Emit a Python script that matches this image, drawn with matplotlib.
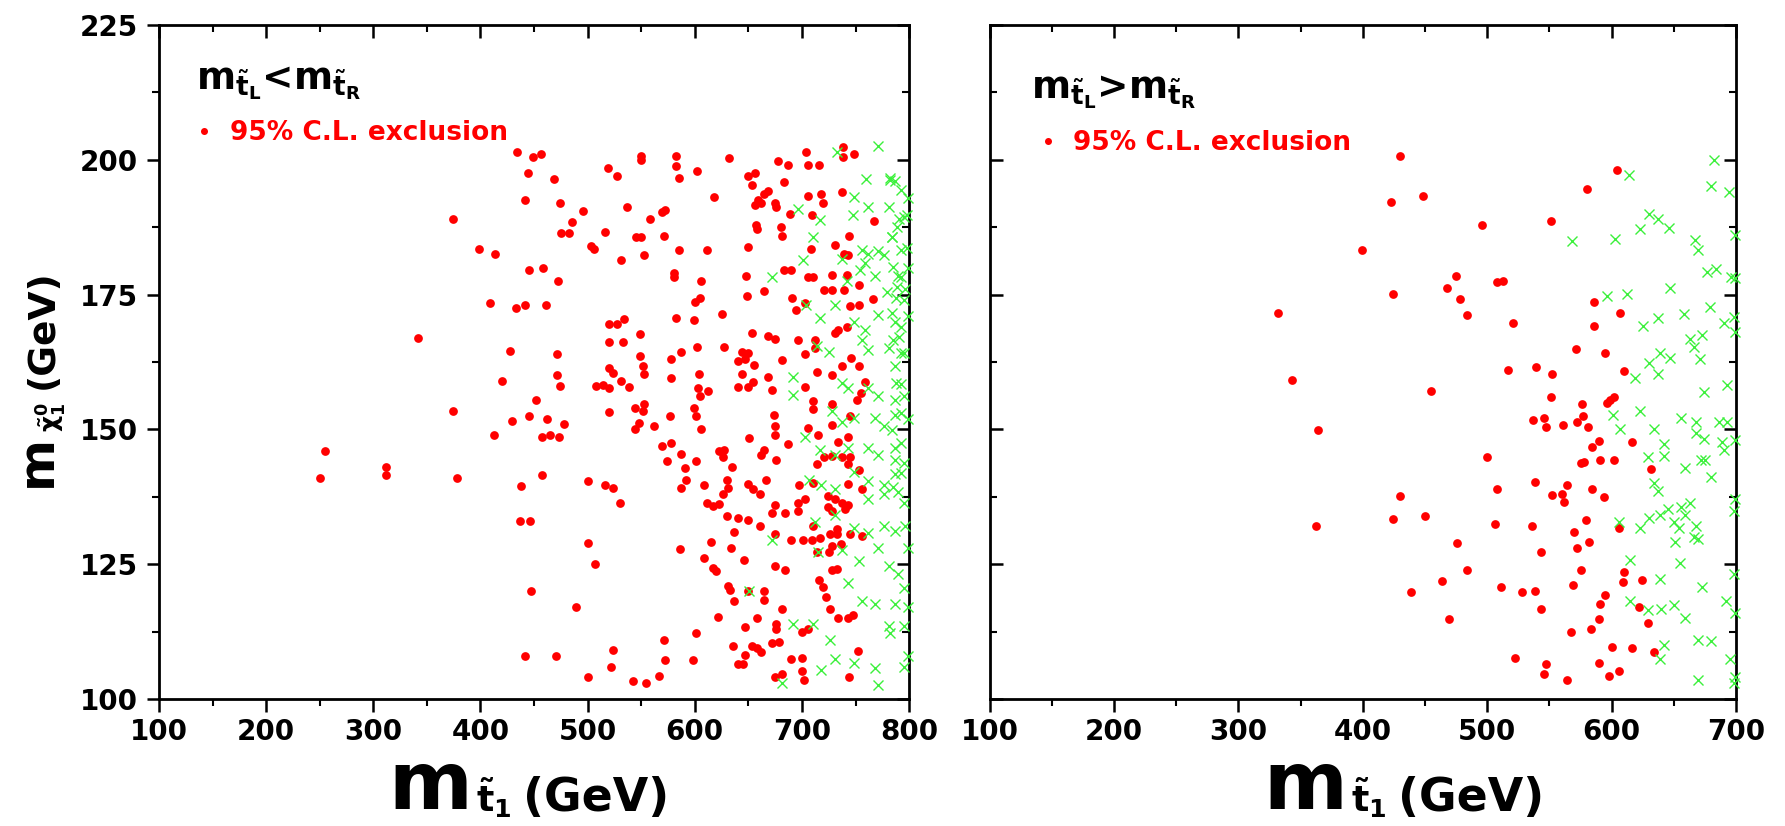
import matplotlib
matplotlib.use("Agg")
import matplotlib.pyplot as plt
from matplotlib.ticker import MultipleLocator

# ---- data: left panel (m_tL < m_tR) ----
left_red_x = [434, 449, 456, 444, 469, 442, 474, 496, 374, 485, 475, 483, 503, 506, 399, 414, 445, 458, 472,
              409, 433, 442, 461, 342, 428, 471, 471, 474, 420, 508, 452, 374, 445, 429, 462, 478, 413, 457,
              465, 473, 255, 250, 312, 312, 378, 457, 438, 500, 437, 446, 500, 507, 447, 489, 442, 470, 500,
              550, 550, 582, 582, 585, 602, 632, 519, 527, 678, 687, 704, 706, 716, 738, 738, 749, 650, 656,
              653, 683, 618, 537, 558, 569, 572, 516, 545, 550, 571, 585, 611, 531, 553, 659, 665, 668, 656,
              662, 675, 676, 689, 657, 658, 680, 681, 706, 718, 720, 709, 737, 767, 744, 731, 739, 743, 650,
              708, 581, 581, 606, 648, 683, 690, 706, 710, 728, 742, 721, 728, 739, 753, 649, 665, 691, 694,
              703, 745, 753, 766, 600, 605, 582, 599, 625, 520, 527, 534, 549, 549, 520, 533, 602, 587, 578,
              627, 653, 668, 675, 696, 712, 712, 703, 731, 734, 742, 746, 644, 650, 640, 647, 655, 681, 520,
              524, 552, 553, 604, 578, 644, 640, 650, 654, 668, 672, 703, 714, 728, 737, 753, 759, 755, 514,
              520, 531, 539, 603, 612, 605, 520, 544, 553, 552, 544, 548, 562, 577, 599, 601, 606, 674, 675,
              675, 710, 710, 728, 751, 706, 715, 728, 745, 743, 734, 651, 569, 578, 587, 574, 591, 592, 601,
              623, 627, 626, 635, 665, 662, 676, 687, 714, 721, 728, 737, 745, 743, 753, 516, 524, 530, 587,
              609, 630, 631, 626, 650, 654, 661, 666, 697, 710, 743, 756, 611, 617, 623, 675, 672, 684, 696,
              696, 703, 724, 731, 724, 737, 743, 728, 740, 630, 640, 650, 661, 637, 675, 690, 701, 709, 717,
              726, 733, 745, 756, 710, 733, 586, 615, 634, 714, 725, 728, 736, 609, 617, 620, 646, 675, 684,
              728, 733, 631, 633, 637, 650, 665, 665, 716, 720, 722, 681, 726, 734, 743, 748, 622, 658, 647,
              676, 676, 601, 700, 706, 571, 672, 679, 524, 522, 572, 598, 636, 647, 653, 658, 662, 640, 645,
              690, 700, 752, 700, 702, 567, 542, 554, 675, 681, 744]
left_red_y = [201.5, 200.5, 201, 197.5, 196.5, 192.5, 192, 190.5, 189, 188.5, 186.5, 186.5, 184, 183.5, 183.5,
              182.5, 179.5, 180, 177.5, 173.5, 172.5, 173, 173, 167, 164.5, 164, 160, 158, 159, 158, 155.5,
              153.5, 152.5, 151.5, 152, 151, 149, 148.5, 149, 148.5, 146, 141, 143, 141.5, 141, 141.5, 139.5,
              140.5, 133, 133, 129, 125, 120, 117, 108, 108, 104,
              200.8, 200, 200.7, 198.8, 196.7, 197.9, 200.3, 198.4, 197, 199.8, 199, 201.5, 199.1, 199, 202.3,
              200.5, 201, 197, 197.5, 195.3, 195.9, 193.1, 191.2, 189.1, 190.4, 190.7, 186.7, 185.7, 185.7,
              185.9, 183.2, 183.2, 181.5, 182.3, 192.6, 193.6, 194.3, 191.6, 191.9, 191.9, 191.2, 190, 187.9,
              187.1, 187.6, 185.9, 193.3, 193.6, 191.9, 189.7, 194, 188.6, 185.9, 184.2, 182.6, 182.4, 183.8,
              183.5, 179, 178.2, 177.6, 178.5, 179.5, 179.5, 178.2, 178.2, 178.7, 178.7, 175.8, 175.8, 175.8,
              176.8, 174.7, 175.6, 174.4, 172.1, 173.4, 172.8, 173.1, 174.2, 173.7, 174.4, 170.7, 170.3, 171.4,
              169.6, 169.6, 170.4, 167.7, 163.7, 166.3, 166.3, 165.3, 164.4, 163, 165.2, 167.9, 167.3, 166.8,
              166.5, 166.5, 165.1, 163.9, 167.9, 168.5, 168.9, 163.3, 164.4, 164.1, 162.7, 163.1, 162, 162.9,
              161.3, 160.5, 161.7, 160.2, 160.3, 159.6, 160.2, 157.9, 157.9, 158.7, 159.8, 157.3, 157.9, 160.6,
              160, 161.7, 161.7, 158.8, 156.7, 158.2, 157.6, 158.9, 157.9, 157.6, 157.2, 156.2, 153.3, 154,
              154.8, 153.4, 150.1, 151.2, 150.7, 152.4, 154, 152.4, 150.1, 152.7, 150.7, 149, 155.2, 153.8,
              154.7, 155.5, 150.3, 149, 150.9, 152.5, 148.6, 147.6, 148.4, 147, 147.4, 145.4, 144.2, 142.8,
              140.7, 144.2, 145.9, 146.2, 144.9, 143.1, 146.2, 145.3, 144.3, 147.3, 143.5, 144.9, 145, 144.9,
              144.9, 143.5, 142.4, 139.6, 139.2, 136.3, 139.2, 139.7, 140.7, 139.2, 138, 139.8, 139, 138,
              140.7, 139.7, 140, 139.9, 139, 136.3, 135.8, 136.1, 135.9, 134.5, 134.4, 136.3, 134.9, 137,
              137.6, 137, 135.6, 136.3, 135.9, 134.9, 135.2, 133.9, 133.5, 133.2, 132, 131, 130.6, 129.4,
              129.4, 129.4, 129.9, 130.6, 130.6, 130.6, 130.3, 132.1, 131.5, 127.8, 129.1, 128, 127.3, 127.3,
              128.4, 128.7, 126.1, 124.2, 123.8, 125.8, 124.6, 124, 123.9, 124.1, 121, 120.3, 118.1, 120.1,
              120.1, 118.4, 122, 120.8, 119, 116.7, 116.7, 115, 115, 115.5, 115.2, 115.1, 113.3, 113.9, 112.9,
              112.2, 112.4, 112.9, 110.9, 110.3, 110.6, 109.1, 106, 107.3, 107.3, 109.8, 108.1, 109.8, 109.5,
              108.7, 106.4, 106.4, 107.4, 107.6, 108.9, 105.2, 103.5, 104.3, 103.4, 102.9, 104, 104.7, 104]

left_green_x = [733, 771, 760, 782, 787, 749, 748, 762, 781, 791, 798, 696, 717, 710, 784, 798, 756, 762, 771,
                777, 759, 737, 701, 672, 742, 754, 768, 790, 796, 779, 788, 704, 717, 731, 749, 759, 771, 787,
                791, 756, 762, 781, 795, 714, 725, 692, 692, 737, 743, 762, 771, 788, 795, 728, 737, 749, 768,
                777, 787, 703, 717, 731, 743, 762, 771, 787, 795, 749, 762, 777, 787, 707, 718, 731, 762, 777,
                790, 795, 712, 731, 749, 762, 777, 787, 796, 672, 715, 737, 753, 771, 781, 790, 795, 743, 756,
                768, 787, 651, 692, 710, 726, 781, 782, 795, 718, 731, 749, 768, 681, 771, 795,
                799, 799, 799, 799, 799, 799, 799,
                782, 792, 795, 789, 784, 792, 785, 792, 789, 795, 784, 792, 785, 792, 787, 792, 787, 792,
                784, 792, 787, 792, 785]
left_green_y = [201.4, 202.5, 196.5, 196.7, 196, 193.1, 189.7, 191.2, 191.2, 189.1, 189.8, 190.9, 188.8, 185.7,
                185.7, 183.7, 183.3, 182.6, 183, 182.3, 180.9, 181.6, 181.5, 178.3, 177.5, 179.5, 178.5, 178.5,
                176.1, 175.4, 174.4, 173, 170.6, 173, 169.9, 168.5, 171.3, 169.9, 167.2, 166.5, 164.8, 165.1,
                164.1, 165.5, 164.4, 159.8, 156.3, 158.6, 157.6, 157.6, 156.2, 158.6, 156.2, 153.4, 151.4,
                152.1, 152.1, 150.7, 152.7, 148.6, 146.2, 145.2, 146.6, 146.6, 145.2, 146.6, 143.8, 142.1,
                140.4, 139.7, 141.8, 140.7, 139.7, 139, 137, 138, 138.3, 136.3, 132.8, 134.2, 131.8, 130.8,
                132.1, 131.1, 132.1, 129.4, 127.3, 127.7, 125.6, 128, 124.6, 123.2, 120.5, 121.5, 118.1, 117.7,
                117.7, 120.1, 113.9, 113.9, 110.9, 113.6, 112.2, 113.6, 105.4, 107.4, 106.7, 105.7, 103, 102.6,
                106,
                193, 180, 171, 152, 128, 117, 108,
                196.3, 194.4, 189.4, 187.6, 185.7, 183.3, 180.2, 178.3, 176.5, 174, 171.5, 169, 166.6, 164.1,
                161.7, 158.5, 155.5, 153, 149.9, 147.4, 144.3, 141.9, 139.4]

# ---- data: right panel (m_tL > m_tR) ----
right_red_x = [430, 423, 448, 496, 399, 475, 468, 478, 484, 424, 332, 343, 455, 364, 500, 430, 424, 450, 362,
               476, 484, 464, 439, 469,
               604, 580, 551, 508, 513, 586, 607, 586, 521, 571, 595, 517, 539, 552, 610, 551, 576, 596, 599,
               602, 537, 546, 547, 561, 572, 577, 581, 590, 584, 616, 575, 578, 591, 602, 632, 508, 538, 552,
               560, 564, 562, 584, 594, 506, 536, 579, 570, 606, 572, 582, 543, 575, 569, 610, 609, 624, 511,
               528, 538, 543, 595, 591, 622, 629, 590, 583, 567, 600, 616, 634, 522, 547, 546, 564, 590, 598,
               606]
right_red_y = [200.8, 192.2, 193.3, 188, 183.3, 178.5, 176.2, 174.2, 171.3, 175.2, 171.6, 159.1, 157.1, 149.9,
               144.8, 137.6, 133.3, 133.9, 132, 128.9, 124, 121.8, 119.8, 114.8,
               198.1, 194.5, 188.7, 177.3, 177.6, 173.7, 171.6, 169.2, 169.7, 165, 164.1, 161.1, 161.5, 160.3,
               160.9, 156, 154.7, 154.9, 155.5, 156, 151.7, 152.1, 150.5, 150.9, 151.4, 152.4, 150.5, 147.9,
               146.7, 147.7, 143.8, 144, 144.3, 144.3, 142.7, 139, 140.2, 137.8, 138, 139.7, 136.6, 139, 137.5,
               132.5, 132, 133.2, 131, 131.7, 128, 129.1, 127.2, 123.9, 121.2, 123.6, 121.7, 122, 120.7, 119.9,
               120.1, 116.6, 119.2, 117.7, 117, 114.1, 114.8, 112.9, 112.4, 109.7, 109.5, 108.7, 107.6, 106.4,
               104.7, 103.5, 106.7, 104.2, 105.2]

right_green_x = [614, 682, 680, 694, 568, 603, 623, 630, 637, 646, 667, 669, 677, 684, 696, 596, 612, 625, 637,
                 647, 658, 679, 690, 698, 663, 673, 666, 671, 639, 647, 630, 637, 619, 674, 693, 601, 607, 623,
                 634, 642, 629, 642, 656, 668, 668, 674, 686, 693, 689, 690, 659, 672, 675, 680, 634, 637, 623,
                 630, 639, 645, 650, 656, 659, 663, 654, 668, 666, 669, 651, 655, 606, 615, 639, 615, 629, 640,
                 650, 659, 673, 692, 698, 698, 642, 639, 669, 680, 695, 669, 698,
                 699, 699, 699, 699, 699, 699, 699]
right_green_y = [197.2, 200, 195.1, 194, 184.9, 185.4, 187.1, 190, 189.1, 187.4, 185.2, 183.2, 179.2, 179.7,
                 178.2, 174.7, 175.2, 169.2, 170.7, 176.2, 171.4, 172.7, 169.8, 170.9, 166.8, 167.5, 165.2, 163.1,
                 164.2, 163.3, 162.4, 160.2, 159.5, 157, 158.2, 152.7, 150.1, 153.4, 150, 147.3, 144.9, 145,
                 152.2, 151.4, 149.3, 148.3, 151.4, 151.4, 147.6, 146.2, 142.8, 144.4, 144.3, 141.1, 140, 138.5,
                 131.8, 133.5, 134.2, 135.2, 132.8, 135.6, 134.2, 136.3, 131.8, 132.1, 130.1, 129.7, 129.1,
                 125.3, 132.8, 125.8, 122.2, 118.1, 116.5, 116.7, 117.4, 115, 120.8, 118.1, 123.2, 134.9, 110,
                 107.4, 111, 110.7, 107.4, 103.6, 103, 186, 178, 168, 148, 137, 116, 104]

titles = [r"$m_{\tilde{t}_L}$<$m_{\tilde{t}_R}$", r"$m_{\tilde{t}_L}$>$m_{\tilde{t}_R}$"]
legend_label = "95% C.L. exclusion"

plt.rcParams['font.family'] = ['DejaVu Sans']
plt.rcParams['font.weight'] = 'bold'
plt.rcParams['mathtext.fontset'] = 'dejavusans'
plt.rcParams['mathtext.default'] = 'bf'

RED = '#ff0000'
GREEN = '#3cf03c'

fig = plt.figure(figsize=(17.85, 8.26), dpi=100)
ax_l = fig.add_axes([0.0891, 0.1538, 0.4202, 0.8159])
ax_r = fig.add_axes([0.5544, 0.1538, 0.4182, 0.8159])


def style_axes(ax, xmax, left_labels):
    ax.set_xlim(100, xmax)
    ax.set_ylim(100, 225)
    for s in ax.spines.values():
        s.set_linewidth(2)
    ax.xaxis.set_major_locator(MultipleLocator(100))
    ax.xaxis.set_minor_locator(MultipleLocator(50))
    ax.yaxis.set_major_locator(MultipleLocator(25))
    ax.yaxis.set_minor_locator(MultipleLocator(12.5))
    ax.tick_params(axis='x', which='both', direction='out', top=False, labelsize=20, pad=5)
    ax.tick_params(axis='y', which='both', direction='out' if left_labels else 'in',
                   right=False, labelleft=left_labels, labelsize=20, pad=6)
    ax.tick_params(which='major', length=9, width=1.8)
    ax.tick_params(which='minor', length=5, width=1.5)
    # mirrored ticks pointing inward on top and right
    top = ax.secondary_xaxis('top')
    top.xaxis.set_major_locator(MultipleLocator(100))
    top.xaxis.set_minor_locator(MultipleLocator(50))
    top.tick_params(which='both', direction='in', labeltop=False)
    top.tick_params(which='major', length=9, width=1.8)
    top.tick_params(which='minor', length=5, width=1.5)
    top.spines['top'].set_visible(False)
    right = ax.secondary_yaxis('right')
    right.yaxis.set_major_locator(MultipleLocator(25))
    right.yaxis.set_minor_locator(MultipleLocator(12.5))
    right.tick_params(which='both', direction='in', labelright=False)
    right.tick_params(which='major', length=9, width=1.8)
    right.tick_params(which='minor', length=5, width=1.5)
    right.spines['right'].set_visible(False)


panels = [
    (ax_l, left_red_x, left_red_y, left_green_x, left_green_y, 800, True,
     (0.049, 0.904), (0.043, 0.84), 0.2174),
    (ax_r, right_red_x, right_red_y, right_green_x, right_green_y, 700, False,
     (0.055, 0.892), (0.061, 0.825), 0.7076),
]

for i, (ax, rx, ry, gx, gy, xmax, left_labels, tpos, lpos, xlab) in enumerate(panels):
    red, = ax.plot(rx, ry, 'o', color=RED, markersize=6.3, markeredgewidth=0,
                   label=legend_label, clip_on=False, zorder=3)
    ax.plot(gx, gy, 'x', color=GREEN, markersize=6.5, markeredgewidth=1.0,
            clip_on=False, zorder=4)
    style_axes(ax, xmax, left_labels)

    ax.text(tpos[0], tpos[1], titles[i], transform=ax.transAxes, fontsize=27,
            va='baseline', ha='left')

    leg = ax.legend(handles=[red], loc='center left', bbox_to_anchor=lpos, frameon=False,
                    markerscale=0.8, handlelength=1.0, handletextpad=0.45,
                    borderpad=0, borderaxespad=0, prop={'weight': 'bold', 'size': 19})
    for t in leg.get_texts():
        t.set_color(RED)

    # x-axis label: big "m", subscript stop, then (GeV)
    t1 = fig.text(xlab, 0.02, 'm', fontsize=58, fontweight='bold', va='baseline', ha='left')
    t2 = ax.annotate(r"$\tilde{t}_1$", xy=(1, 0), xycoords=t1, xytext=(3, 5),
                     textcoords='offset points', fontsize=26, va='bottom', ha='left',
                     annotation_clip=False)
    ax.annotate('(GeV)', xy=(1, 0), xycoords=t2, xytext=(8, -1), textcoords='offset points',
                fontsize=33, fontweight='bold', va='bottom', ha='left', annotation_clip=False)

# y-axis label, built bottom-up: big "m", subscript neutralino, then (GeV)
ybase = 0.0285
y1 = fig.text(ybase, 0.41, 'm', rotation=90, rotation_mode='anchor', fontsize=36,
              fontweight='bold', ha='left', va='baseline')
y2 = ax_l.annotate(r"$\tilde{\chi}^0_1$", xy=(ybase, 1), xycoords=('figure fraction', y1),
                   xytext=(6, 2), textcoords='offset points', rotation=90, rotation_mode='anchor',
                   fontsize=18, ha='left', va='baseline', annotation_clip=False)
ax_l.annotate('(GeV)', xy=(ybase, 1), xycoords=('figure fraction', y2), xytext=(1, 10),
              textcoords='offset points', rotation=90, rotation_mode='anchor', fontsize=27,
              fontweight='bold', ha='left', va='baseline', annotation_clip=False)

fig.savefig('out.png', dpi=100)
